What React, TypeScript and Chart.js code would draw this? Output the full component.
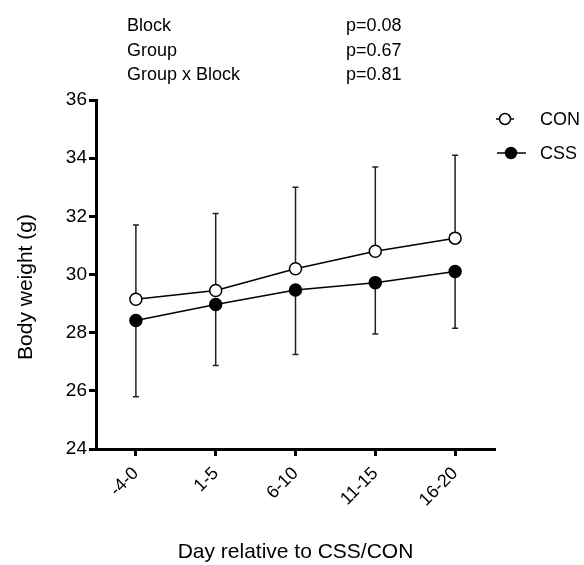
import React, { useEffect, useRef } from "react";
import { Chart, registerables } from "chart.js";

Chart.register(...registerables);

const categories = ["-4-0", "1-5", "6-10", "11-15", "16-20"];
const conMean = [29.15, 29.45, 30.2, 30.8, 31.25];
const conSD = [2.55, 2.65, 2.8, 2.9, 2.85];
const cssMean = [28.42, 28.97, 29.47, 29.72, 30.1];
const cssSD = [2.62, 2.1, 2.22, 1.77, 1.95];
const yTicks = [24, 26, 28, 30, 32, 34, 36];
const statLabels = ["Block", "Group", "Group x Block"];
const statValues = ["p=0.08", "p=0.67", "p=0.81"];
const seriesNames = ["CON", "CSS"];
const xTitle = "Day relative to CSS/CON";
const yTitle = "Body weight (g)";

const FONT = "'Liberation Sans', Arial, Helvetica, sans-serif";

const errorBars = {
  id: "errorBars",
  beforeDatasetsDraw(chart: any) {
    const ctx = chart.ctx;
    const ys = chart.scales.y;
    const sets = [
      { mean: conMean, sd: conSD, dir: 1 },
      { mean: cssMean, sd: cssSD, dir: -1 },
    ];
    ctx.save();
    ctx.strokeStyle = "#222";
    ctx.lineWidth = 1.5;
    sets.forEach((s, i) => {
      const meta = chart.getDatasetMeta(i);
      meta.data.forEach((pt: any, j: number) => {
        const x = pt.x;
        const y0 = ys.getPixelForValue(s.mean[j]);
        const y1 = ys.getPixelForValue(s.mean[j] + s.dir * s.sd[j]);
        ctx.beginPath();
        ctx.moveTo(x, y0);
        ctx.lineTo(x, y1);
        ctx.moveTo(x - 3, y1);
        ctx.lineTo(x + 3, y1);
        ctx.stroke();
      });
    });
    ctx.restore();
  },
  afterDraw(chart: any) {
    const ctx = chart.ctx;
    ctx.save();
    ctx.fillStyle = "#000";
    ctx.font = `18px ${FONT}`;
    ctx.textAlign = "left";
    ctx.textBaseline = "alphabetic";
    const baselines = [31, 56, 80];
    statLabels.forEach((t, i) => ctx.fillText(t, 127, baselines[i]));
    statValues.forEach((t, i) => ctx.fillText(t, 346, baselines[i]));
    const leg = [
      { y: 119, x0: 496, x1: 514, cx: 505, fill: "#fff" },
      { y: 153, x0: 497, x1: 526, cx: 511, fill: "#000" },
    ];
    leg.forEach((l, i) => {
      ctx.strokeStyle = "#000";
      ctx.lineWidth = 1.5;
      ctx.beginPath();
      ctx.moveTo(l.x0, l.y);
      ctx.lineTo(l.x1, l.y);
      ctx.stroke();
      ctx.beginPath();
      ctx.arc(l.cx, l.y, 5.5, 0, Math.PI * 2);
      ctx.fillStyle = l.fill;
      ctx.fill();
      ctx.stroke();
      ctx.fillStyle = "#000";
      ctx.font = `18px ${FONT}`;
      ctx.textBaseline = "middle";
      ctx.fillText(seriesNames[i], 540, l.y + 1);
    });
    ctx.font = `21px ${FONT}`;
    ctx.textAlign = "center";
    ctx.textBaseline = "alphabetic";
    const ca = chart.chartArea;
    ctx.fillText(xTitle, (ca.left + ca.right) / 2, 558);
    ctx.save();
    ctx.translate(32, 287);
    ctx.rotate(-Math.PI / 2);
    ctx.fillText(yTitle, 0, 0);
    ctx.restore();
    ctx.restore();
  },
};

export default function App() {
  const ref = useRef<HTMLCanvasElement>(null);
  useEffect(() => {
    if (!ref.current) return;
    const chart = new Chart(ref.current, {
      type: "line",
      data: {
        labels: categories,
        datasets: [
          {
            label: seriesNames[0],
            data: conMean,
            borderColor: "#000",
            borderWidth: 1.5,
            backgroundColor: "#fff",
            pointBackgroundColor: "#fff",
            pointBorderColor: "#000",
            pointBorderWidth: 1.5,
            pointRadius: 6,
            tension: 0,
            clip: false as any,
          },
          {
            label: seriesNames[1],
            data: cssMean,
            borderColor: "#000",
            borderWidth: 1.5,
            backgroundColor: "#000",
            pointBackgroundColor: "#000",
            pointBorderColor: "#000",
            pointBorderWidth: 1.5,
            pointRadius: 6,
            tension: 0,
            clip: false as any,
          },
        ],
      },
      options: {
        animation: false,
        responsive: false,
        devicePixelRatio: 1,
        layout: { padding: { top: 100, left: 0, right: 89, bottom: 0 } },
        plugins: { legend: { display: false }, tooltip: { enabled: false } },
        scales: {
          x: {
            type: "category",
            offset: true,
            grid: {
              display: true,
              drawOnChartArea: false,
              drawTicks: true,
              tickLength: 7,
              tickWidth: 3,
              tickColor: "#000",
            },
            border: { display: true, width: 3, color: "#000" },
            ticks: {
              color: "#000",
              font: { family: FONT, size: 18 },
              maxRotation: 45,
              minRotation: 45,
              padding: 7,
            },
            afterFit: (s: any) => {
              s.height = 116;
            },
          },
          y: {
            min: yTicks[0],
            max: yTicks[yTicks.length - 1],
            afterBuildTicks: (s: any) => {
              s.ticks = yTicks.map((v) => ({ value: v }));
            },
            grid: {
              display: true,
              drawOnChartArea: false,
              drawTicks: true,
              tickLength: 7,
              tickWidth: 3,
              tickColor: "#000",
            },
            border: { display: true, width: 3, color: "#000" },
            ticks: {
              color: "#000",
              font: { family: FONT, size: 19 },
              padding: 2,
            },
            afterFit: (s: any) => {
              s.width = 96;
            },
          },
        },
      },
      plugins: [errorBars],
    });
    return () => chart.destroy();
  }, []);
  return (
    <div style={{ position: "absolute", left: 0, top: 0, width: 584, height: 565, background: "#fff" }}>
      <canvas ref={ref} width={584} height={565} style={{ width: 584, height: 565 }} />
    </div>
  );
}
